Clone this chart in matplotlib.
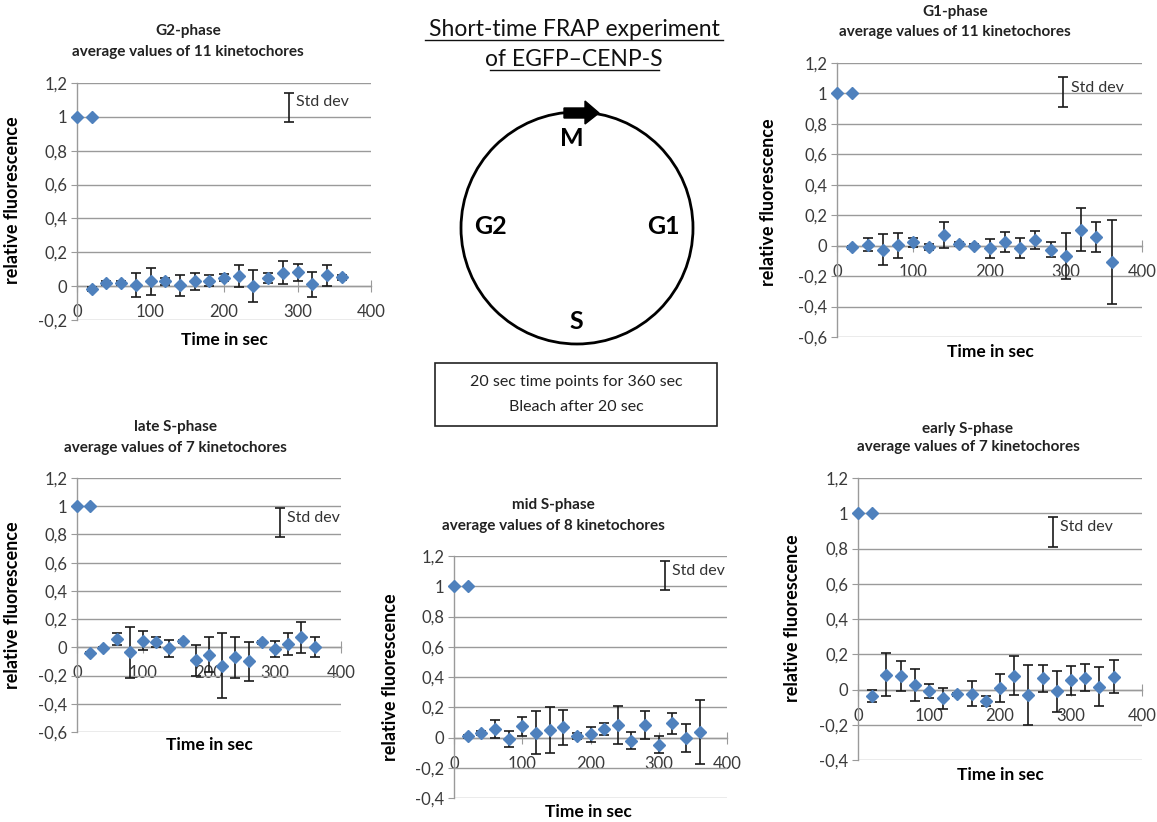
import numpy as np
import matplotlib
matplotlib.use("Agg")
import matplotlib.pyplot as plt
from matplotlib.patches import Circle, Rectangle, Polygon

plt.rcParams['font.family'] = ['Lato', 'DejaVu Sans']

W, H = 1157, 822

# ---------------- data ----------------
pre_time = [0, 20]
pre_values = [1.0, 1.0]
post_time = list(range(20, 361, 20))

g2_mean = [-0.016, 0.018, 0.018, 0.008, 0.028, 0.028, 0.004, 0.028, 0.033, 0.050,
           0.060, 0.000, 0.050, 0.080, 0.083, 0.010, 0.063, 0.053]
g2_err = [0.010, 0.012, 0.012, 0.070, 0.080, 0.020, 0.060, 0.050, 0.030, 0.020,
          0.065, 0.095, 0.030, 0.070, 0.050, 0.075, 0.060, 0.015]

g1_mean = [-0.009, 0.007, -0.026, 0.002, 0.022, -0.009, 0.068, 0.011, 0.000, -0.018,
           0.024, -0.015, 0.039, -0.026, -0.066, 0.105, 0.057, -0.107]
g1_err = [0.010, 0.045, 0.100, 0.080, 0.030, 0.020, 0.085, 0.010, 0.010, 0.065,
          0.063, 0.065, 0.060, 0.050, 0.150, 0.140, 0.100, 0.275]

late_mean = [-0.040, -0.005, 0.060, -0.036, 0.048, 0.040, -0.007, 0.043, -0.090, -0.052,
             -0.130, -0.070, -0.100, 0.036, -0.012, 0.024, 0.071, 0.000]
late_err = [0.010, 0.010, 0.040, 0.180, 0.070, 0.035, 0.060, 0.010, 0.110, 0.125,
            0.230, 0.145, 0.140, 0.010, 0.055, 0.075, 0.110, 0.070]

mid_mean = [0.007, 0.029, 0.055, -0.009, 0.073, 0.033, 0.050, 0.068, 0.013, 0.022,
            0.057, 0.083, -0.020, 0.083, -0.048, 0.095, -0.004, 0.035]
mid_err = [0.010, 0.012, 0.060, 0.055, 0.065, 0.145, 0.150, 0.115, 0.020, 0.050,
           0.040, 0.125, 0.055, 0.095, 0.055, 0.070, 0.090, 0.210]

early_mean = [-0.036, 0.085, 0.076, 0.025, -0.010, -0.050, -0.028, -0.023, -0.066, 0.010,
              0.078, -0.032, 0.063, -0.010, 0.053, 0.068, 0.015, 0.072]
early_err = [0.033, 0.120, 0.085, 0.090, 0.040, 0.060, 0.010, 0.070, 0.030, 0.080,
             0.110, 0.170, 0.075, 0.115, 0.083, 0.078, 0.110, 0.093]

yticks_a = [-0.2, 0, 0.2, 0.4, 0.6, 0.8, 1.0, 1.2]
yticks_b = [-0.6, -0.4, -0.2, 0, 0.2, 0.4, 0.6, 0.8, 1.0, 1.2]
yticks_c = [-0.4, -0.2, 0, 0.2, 0.4, 0.6, 0.8, 1.0, 1.2]
xticks = [0, 100, 200, 300, 400]

panels = [
    dict(t1="G2-phase", t2="average values of 11 kinetochores", mean=g2_mean, err=g2_err,
         yt=yticks_a, box=(77, 371, 83, 320), title=(188, 31, 52), ylab=(13, 200),
         xlab=(224, 340), std=(288, 0.97, 1.14)),
    dict(t1="G1-phase", t2="average values of 11 kinetochores", mean=g1_mean, err=g1_err,
         yt=yticks_b, box=(837, 1142, 63, 337), title=(955, 12, 32), ylab=(769, 202),
         xlab=(990, 352), std=(297, 0.91, 1.105)),
    dict(t1="late S-phase", t2="average values of 7 kinetochores", mean=late_mean, err=late_err,
         yt=yticks_b, box=(77, 341, 478, 732), title=(175, 427, 448), ylab=(13, 605),
         xlab=(209, 745), std=(308, 0.785, 0.985)),
    dict(t1="mid S-phase", t2="average values of 8 kinetochores", mean=mid_mean, err=mid_err,
         yt=yticks_c, box=(454, 727, 556, 798), title=(553, 505, 526), ylab=(390, 677),
         xlab=(588, 812), std=(309, 0.975, 1.17)),
    dict(t1="early S-phase", t2="average values of 7 kinetochores", mean=early_mean, err=early_err,
         yt=yticks_c, box=(858, 1142, 478, 760), title=(968, 429, 447), ylab=(793, 618),
         xlab=(1000, 775), std=(275, 0.808, 0.976)),
]

BLUE = '#4F81BD'
GRID = '#9a9a9a'
TICKC = '#3a3a3a'

fig = plt.figure(figsize=(W / 100, H / 100), dpi=100)
fig.patch.set_facecolor('white')


def fx(x):
    return x / W


def fy(y):
    return 1 - y / H


def ytick_label(v):
    if abs(v - round(v)) < 1e-9:
        return "%d" % round(v)
    return ("%.1f" % v).replace('.', ',')


for p in panels:
    l, r, t, b = p['box']
    ax = fig.add_axes([fx(l), fy(b), (r - l) / W, (b - t) / H])
    ymin = p['yt'][0]
    ax.set_xlim(0, 400)
    ax.set_ylim(ymin, 1.2)
    ax.set_yticks(p['yt'])
    ax.set_yticklabels([ytick_label(v) for v in p['yt']])
    ax.set_xticks(xticks)
    ax.set_xticklabels([str(v) for v in xticks])
    ax.grid(axis='y', color=GRID, lw=1.0)
    ax.set_axisbelow(True)
    for s in ['top', 'right']:
        ax.spines[s].set_visible(False)
    ax.spines['left'].set_color(GRID)
    ax.spines['left'].set_linewidth(1.0)
    ax.spines['bottom'].set_position(('data', 0))
    ax.spines['bottom'].set_color(GRID)
    ax.spines['bottom'].set_linewidth(1.0)
    ax.tick_params(axis='y', direction='out', length=4, color=GRID, labelsize=12,
                   labelcolor=TICKC, pad=3)
    ax.tick_params(axis='x', direction='inout', length=8, color=GRID, labelsize=12,
                   labelcolor=TICKC, pad=9)
    ax.patch.set_visible(False)

    ax.errorbar(post_time, p['mean'], yerr=p['err'], fmt='none', ecolor='#1a1a1a',
                elinewidth=1.2, capsize=3.6, capthick=1.2, clip_on=False, zorder=3)
    ax.plot(post_time, p['mean'], 'D', color=BLUE, ms=6.3, mec=BLUE, clip_on=False, zorder=4)
    ax.plot(pre_time, pre_values, 'D', color=BLUE, ms=6.3, mec=BLUE, clip_on=False, zorder=4)

    sx, lo, hi = p['std']
    ax.errorbar([sx], [(lo + hi) / 2], yerr=[(hi - lo) / 2], fmt='none', ecolor='#1a1a1a',
                elinewidth=1.2, capsize=3.6, capthick=1.2, zorder=3)
    ax.text(sx + 10, (lo + hi) / 2 + 0.03, "Std dev", fontsize=11.5, color='#333333',
            ha='left', va='center')

    tx, ty1, ty2 = p['title']
    fig.text(fx(tx), fy(ty1), p['t1'], ha='center', va='center', fontsize=11,
             fontweight='bold', color='#222222')
    fig.text(fx(tx), fy(ty2), p['t2'], ha='center', va='center', fontsize=11,
             fontweight='bold', color='#222222')
    lx, ly = p['ylab']
    fig.text(fx(lx), fy(ly), "relative fluorescence", rotation=90, ha='center', va='center',
             fontsize=13, fontweight='bold', color='black')
    xx, xy = p['xlab']
    fig.text(fx(xx), fy(xy), "Time in sec", ha='center', va='center', fontsize=12.5,
             fontweight='bold', color='black')

# ---------------- cell cycle diagram ----------------
ov = fig.add_axes([0, 0, 1, 1])
ov.set_xlim(0, W)
ov.set_ylim(H, 0)
ov.axis('off')
ov.patch.set_visible(False)

ov.text(574, 29, "Short-time FRAP experiment", ha='center', va='center', fontsize=16.5,
        color='#111111')
ov.text(574, 60, "of EGFP\u2013CENP-S", ha='center', va='center', fontsize=16.5,
        color='#111111')
ov.plot([425, 723], [40, 40], color='#111111', lw=1.0)
ov.plot([490, 659], [70, 70], color='#111111', lw=1.0)

ov.add_patch(Circle((577, 228), 116, fill=False, ec='black', lw=2.0))
ov.add_patch(Polygon([(564, 108), (585, 108), (585, 101), (599, 113), (585, 124),
                      (585, 118), (564, 118)], closed=True, fc='black', ec='black'))

for txt, x, y in [("M", 572, 139), ("G2", 490, 226), ("G1", 663, 226), ("S", 576, 321)]:
    ov.text(x, y, txt, ha='center', va='center', fontsize=18, fontweight='bold',
            color='black')

ov.add_patch(Rectangle((435, 363), 282, 63, fill=False, ec='#222222', lw=1.2))
ov.text(576, 382, "20 sec time points for 360 sec", ha='center', va='center', fontsize=11.5,
        color='#222222')
ov.text(576, 407, "Bleach after 20 sec", ha='center', va='center', fontsize=11.5,
        color='#222222')

fig.savefig("out.png", dpi=100, facecolor='white')
